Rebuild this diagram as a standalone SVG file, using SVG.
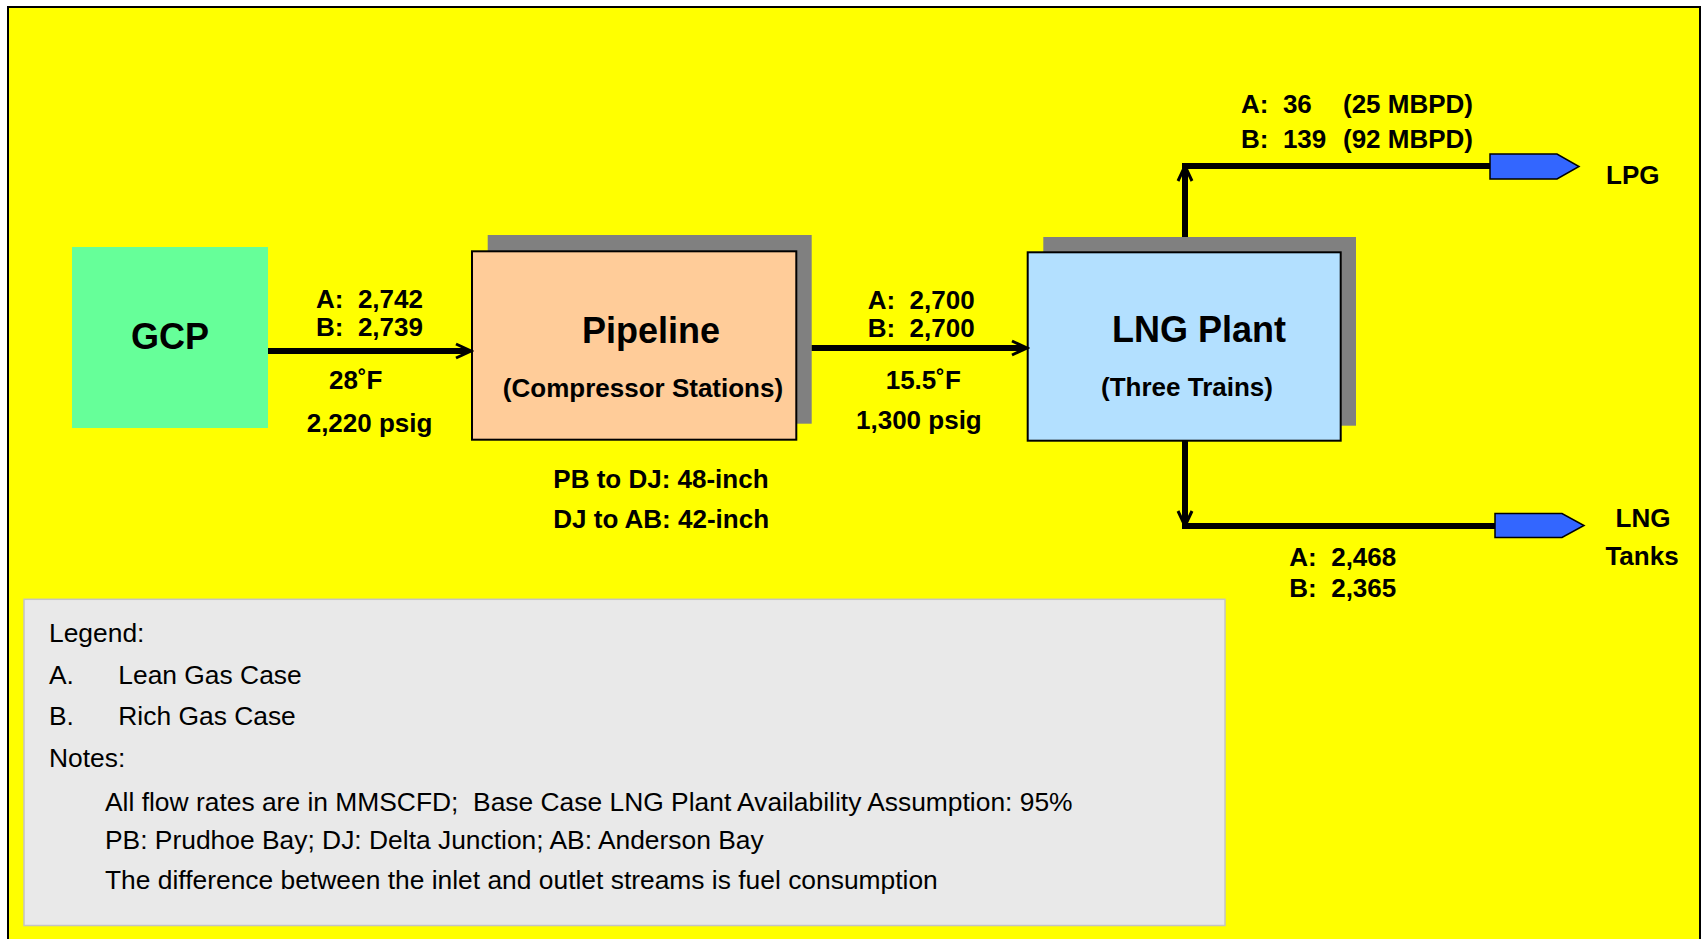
<svg xmlns="http://www.w3.org/2000/svg" width="1702" height="939" viewBox="0 0 1702 939">
<style>
  text { font-family: "Liberation Sans", Arial, sans-serif; fill: #000; white-space: pre; }
  .title { font-size: 36px; font-weight: bold; }
  .lbl { font-size: 26px; font-weight: bold; }
  .leg { font-size: 26.4px; }
  .shadow { fill: #808080; }
  .box { stroke: #000; stroke-width: 2; }
  .flow { stroke: #000; stroke-width: 6; fill: none; }
  .tag { fill: #3366FF; stroke: #000; stroke-width: 1.5; }
</style>
<defs>
  <marker id="arr" markerUnits="userSpaceOnUse" markerWidth="20" markerHeight="20" viewBox="-2 -10 20 20" refX="12" refY="0" orient="auto">
    <path d="M0,-7 L15,0 L0,7" fill="none" stroke="#000" stroke-width="3" stroke-linejoin="miter"/>
    <path d="M6,-3 L15,0 L6,3 Z" fill="#000"/>
  </marker>
</defs>
<rect x="8" y="7" width="1692" height="942" fill="#FFFF00" stroke="#000" stroke-width="2"/>

<g id="gcp">
  <rect x="72" y="247" width="196" height="181" fill="#66FF99"/>
  <text class="title" x="170" y="349.3" text-anchor="middle">GCP</text>
</g>

<g id="pipeline">
  <rect class="shadow" x="487.7" y="235" width="324" height="188.7"/>
  <rect class="box" x="472" y="251.3" width="324.3" height="188.4" fill="#FFCC99"/>
  <text class="title" x="651" y="343.3" text-anchor="middle">Pipeline</text>
  <text class="lbl" x="643" y="397" text-anchor="middle">(Compressor Stations)</text>
</g>

<g id="lngplant">
  <rect class="shadow" x="1043.3" y="237" width="312.7" height="188.7"/>
  <rect class="box" x="1027.7" y="252.3" width="313" height="188.4" fill="#B3E0FF"/>
  <text class="title" x="1199" y="341.7" text-anchor="middle">LNG Plant</text>
  <text class="lbl" x="1187" y="395.7" text-anchor="middle">(Three Trains)</text>
</g>

<g id="lpg">
  <polygon class="tag" points="1490,154 1557,154 1579,166.5 1557,179 1490,179"/>
  <text class="lbl" x="1606" y="184">LPG</text>
</g>

<g id="lngtanks">
  <polygon class="tag" points="1495,513.5 1562,513.5 1584,525.5 1562,537.5 1495,537.5"/>
  <text class="lbl" x="1643" y="527.3" text-anchor="middle">LNG</text>
  <text class="lbl" x="1642" y="565" text-anchor="middle">Tanks</text>
</g>

<g id="connectors">
  <line class="flow" x1="268" y1="351" x2="468" y2="351" marker-end="url(#arr)"/>
  <line class="flow" x1="811.7" y1="348" x2="1024" y2="348" marker-end="url(#arr)"/>
  <line class="flow" x1="1185" y1="237" x2="1185" y2="169" marker-end="url(#arr)"/>
  <line class="flow" x1="1182" y1="166" x2="1490" y2="166"/>
  <line class="flow" x1="1185" y1="441" x2="1185" y2="523" marker-end="url(#arr)"/>
  <line class="flow" x1="1182" y1="526" x2="1495" y2="526"/>
</g>

<g id="labels">
  <text class="lbl" x="316" y="308">A:  2,742</text>
  <text class="lbl" x="316" y="335.7">B:  2,739</text>
  <text class="lbl" x="329" y="389">28˚F</text>
  <text class="lbl" x="306.7" y="432">2,220 psig</text>

  <text class="lbl" x="867.7" y="309">A:  2,700</text>
  <text class="lbl" x="867.7" y="336.7">B:  2,700</text>
  <text class="lbl" x="885.7" y="389">15.5˚F</text>
  <text class="lbl" x="856" y="429.3">1,300 psig</text>

  <text class="lbl" x="553.3" y="487.7">PB to DJ: 48-inch</text>
  <text class="lbl" x="553.3" y="528.3">DJ to AB: 42-inch</text>

  <text class="lbl" x="1241" y="113.3">A:  36</text>
  <text class="lbl" x="1343" y="113.3">(25 MBPD)</text>
  <text class="lbl" x="1241" y="148.3">B:  139</text>
  <text class="lbl" x="1343" y="148.3">(92 MBPD)</text>

  <text class="lbl" x="1289.3" y="566">A:  2,468</text>
  <text class="lbl" x="1289.3" y="596.7">B:  2,365</text>
</g>

<g id="legend">
  <rect x="24" y="599.3" width="1201" height="326.2" fill="#E9E9E9" stroke="#C4C4C4" stroke-width="1.5"/>
  <text class="leg" x="49" y="641.7">Legend:</text>
  <text class="leg" x="49" y="684.3">A.</text>
  <text class="leg" x="118.3" y="684.3">Lean Gas Case</text>
  <text class="leg" x="49" y="725">B.</text>
  <text class="leg" x="118.3" y="725">Rich Gas Case</text>
  <text class="leg" x="49" y="766.7">Notes:</text>
  <text class="leg" x="105" y="811">All flow rates are in MMSCFD;  Base Case LNG Plant Availability Assumption: 95%</text>
  <text class="leg" x="105" y="849.3">PB: Prudhoe Bay; DJ: Delta Junction; AB: Anderson Bay</text>
  <text class="leg" x="105" y="889">The difference between the inlet and outlet streams is fuel consumption</text>
</g>
</svg>
